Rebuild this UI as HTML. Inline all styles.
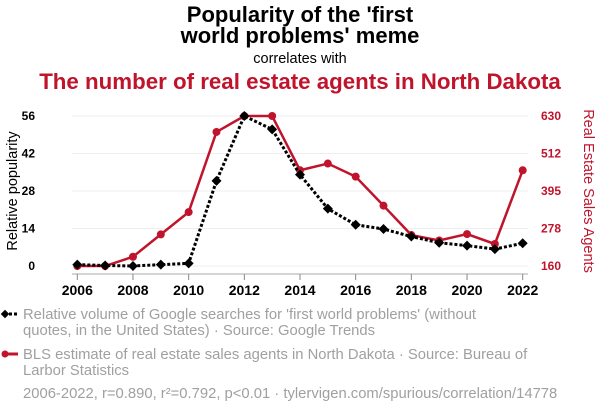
<!DOCTYPE html>
<html><head><meta charset="utf-8"><style>
body{margin:0;background:#fff;width:600px;height:414px;overflow:hidden;font-family:"Liberation Sans",sans-serif}
svg{display:block}
</style></head><body>
<svg id="c" width="600" height="414">
<text x="300" y="22" text-anchor="middle" font-size="22" font-weight="bold" fill="#000">Popularity of the 'first</text>
<text x="300" y="43" text-anchor="middle" font-size="22" font-weight="bold" fill="#000">world problems' meme</text>
<text x="300" y="63" text-anchor="middle" font-size="14.5" fill="#000">correlates with</text>
<text x="300" y="89" text-anchor="middle" font-size="22.3" font-weight="bold" fill="#c0142c">The number of real estate agents in North Dakota</text>
<text transform="translate(17,191) rotate(-90)" text-anchor="middle" font-size="14.5" fill="#000">Relative popularity</text>
<text transform="translate(584,191) rotate(90)" text-anchor="middle" font-size="14.5" fill="#c0142c">Real Estate Sales Agents</text>
<g id="grid"></g><g id="axes"></g><g id="series"></g>
<g>
<line x1="4" y1="314" x2="18" y2="314" stroke="#000" stroke-width="3" stroke-dasharray="3,2"/>
<rect x="2" y="311" width="6" height="6" transform="rotate(45 5 314)" fill="#000"/>
<text x="23" y="319" font-size="14.8" fill="#a0a0a0">Relative volume of Google searches for 'first world problems' (without</text>
<text x="23" y="335" font-size="14.8" fill="#a0a0a0">quotes, in the United States) · Source: Google Trends</text>
<line x1="4" y1="354" x2="18" y2="354" stroke="#c0142c" stroke-width="3"/>
<circle cx="5" cy="354" r="3.5" fill="#c0142c"/>
<text x="23" y="359" font-size="14.8" fill="#a0a0a0">BLS estimate of real estate sales agents in North Dakota · Source: Bureau of</text>
<text x="23" y="375" font-size="14.8" fill="#a0a0a0">Larbor Statistics</text>
<text x="23" y="398" font-size="14.8" fill="#a0a0a0">2006-2022, r=0.890, r²=0.792, p&lt;0.01 · tylervigen.com/spurious/correlation/14778</text>
</g>
</svg>
<script>
const years=[2006,2007,2008,2009,2010,2011,2012,2013,2014,2015,2016,2017,2018,2019,2020,2021,2022];
const memeValues=[0.5,0.2,0,0.5,1,31.8,56,51,34.1,21.4,15.4,13.8,11,8.7,7.6,6.3,8.5];
const agentValues=[160,160,189,259,329,580,630,630,460,481,440,349,257,240,260,229,460];
const leftTicks=[0,14,28,42,56];
const rightTicks=[160,278,395,512,630];
const xTicks=[2006,2008,2010,2012,2014,2016,2018,2020,2022];
const NS="http://www.w3.org/2000/svg";
const x=v=>77.3+(v-2006)*(522.7-77.3)/16;
const yL=v=>266-v*150/56;
const yR=v=>266-(v-160)*150/470;
function mk(t,a,p){const e=document.createElementNS(NS,t);for(const k in a)e.setAttribute(k,a[k]);p.appendChild(e);return e;}
const grid=document.getElementById('grid'),axes=document.getElementById('axes'),ser=document.getElementById('series');
leftTicks.forEach((t,i)=>{
 const g=mk('line',{x1:72,x2:528,y1:yL(t),y2:yL(t),stroke:'#eee','stroke-width':1},grid);
 
 
 const l=mk('text',{x:35,y:yL(t)+4,'text-anchor':'end','font-size':12,'font-weight':'bold',fill:'#000'},axes);l.textContent=t;
 
 
 const r=mk('text',{x:541,y:yR(rightTicks[i])+4,'font-size':12,'font-weight':'bold',fill:'#c0142c'},axes);r.textContent=rightTicks[i];
 
 
});
mk('line',{x1:72,x2:528,y1:274,y2:274,stroke:'#aaa','stroke-width':1},axes);
xTicks.forEach(t=>{
 mk('line',{x1:x(t),x2:x(t),y1:274,y2:280,stroke:'#888','stroke-width':1},axes);
 const l=mk('text',{x:x(t),y:295,'text-anchor':'middle','font-size':14,'font-weight':'bold',fill:'#000'},axes);l.textContent=t;
 
 
});
const rp=mk('polyline',{points:years.map((y,i)=>x(y)+','+yR(agentValues[i])).join(' '),fill:'none',stroke:'#c0142c','stroke-width':2.5},ser);


years.forEach((y,i)=>{const c=mk('circle',{cx:x(y),cy:yR(agentValues[i]),r:4,fill:'#c0142c'},ser);
 
 });
const bp=mk('polyline',{points:years.map((y,i)=>x(y)+','+yL(memeValues[i])).join(' '),fill:'none',stroke:'#000','stroke-width':3,'stroke-dasharray':'3,2'},ser);


years.forEach((y,i)=>{const X=x(y),Y=yL(memeValues[i]);const d=mk('polygon',{points:`${X},${Y-5} ${X+5},${Y} ${X},${Y+5} ${X-5},${Y}`,fill:'#000'},ser);
 
 });
</script>
</body></html>
